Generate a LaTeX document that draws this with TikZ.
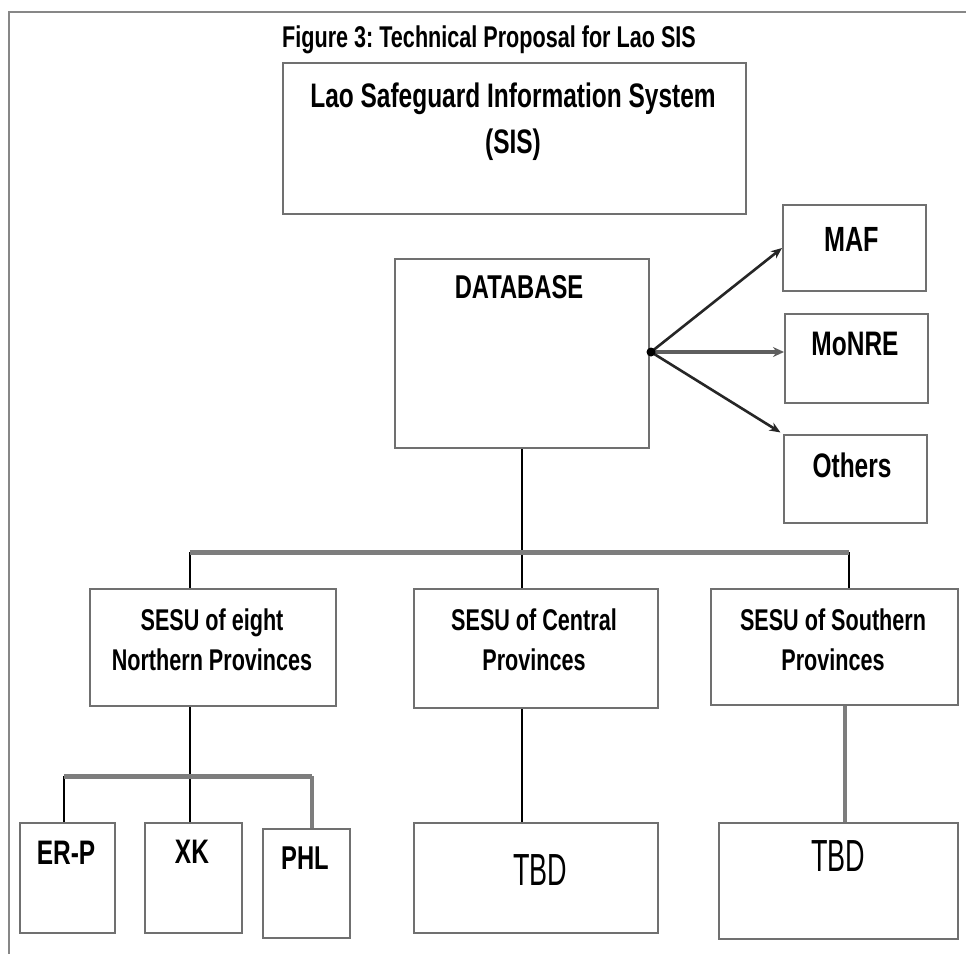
\documentclass[tikz,border=0pt]{standalone}
\usepackage{fontspec}
\setmainfont{Liberation Sans}[FakeStretch=0.72]
\newfontfamily\tbdfont{Liberation Sans}[FakeStretch=0.6]
\usetikzlibrary{arrows.meta,calc}
\definecolor{boxgray}{RGB}{112,112,112}
\definecolor{busgray}{RGB}{125,125,125}
\definecolor{framegray}{RGB}{135,135,135}
\definecolor{arrgray}{RGB}{95,95,95}
\tikzset{
  bx/.style={draw=boxgray, line width=2pt, inner sep=0pt, anchor=north west, rectangle},
  lbl/.style n args={2}{inner sep=0pt, align=center, text=black, font=\bfseries\fontsize{#1}{#2}\selectfont},
  tbd/.style={inner sep=0pt, text=black, font=\tbdfont\fontsize{45}{45}\selectfont},
  conn/.style={draw=black, line width=1.6pt},
  bus/.style={draw=busgray, line width=5pt},
  gconn/.style={draw=busgray, line width=3.5pt},
  frameline/.style={draw=framegray, line width=2pt},
  arr/.style={draw=black!85, line width=2.6pt, -{Stealth[length=11pt,width=9pt]}},
  garr/.style={draw=arrgray, line width=4.5pt, -{Stealth[length=11pt,width=10pt,fill=black]}},
}
\frenchspacing
\begin{document}
\begin{tikzpicture}[x=1pt,y=-1pt]
\useasboundingbox (0,0) rectangle (966,954);
\fill[white] (0,0) rectangle (966,954);
% frame
\draw[frameline] (966,12) -- (9,12) -- (9,954);
% title
\node[lbl={30}{36}] (title) at (489,40) {Figure 3: Technical Proposal for Lao SIS};
% boxes
\node[bx, minimum width=463pt, minimum height=151pt] (sis) at (282,62) {};
\node[bx, minimum width=254pt, minimum height=189pt] (db) at (394,258) {};
\node[bx, minimum width=143pt, minimum height=86pt] (maf) at (782,204) {};
\node[bx, minimum width=143pt, minimum height=89pt] (mon) at (784,313) {};
\node[bx, minimum width=143pt, minimum height=88pt] (oth) at (783,434) {};
\node[bx, minimum width=246pt, minimum height=117pt] (sn) at (89,588) {};
\node[bx, minimum width=244pt, minimum height=119pt] (sc) at (413,588) {};
\node[bx, minimum width=247pt, minimum height=116pt] (ss) at (710,588) {};
\node[bx, minimum width=95pt, minimum height=110pt] (erp) at (19,822) {};
\node[bx, minimum width=97pt, minimum height=110pt] (xk) at (144,822) {};
\node[bx, minimum width=87pt, minimum height=109pt] (phl) at (262,828) {};
\node[bx, minimum width=244pt, minimum height=110pt] (tc) at (413,822) {};
\node[bx, minimum width=239pt, minimum height=116pt] (ts) at (718,822) {};
% labels
\node[lbl={34}{46}] (sisT) at (513,122) {Lao Safeguard Information System\\(SIS)};
\node[lbl={33}{33}] (dbT) at (519,287) {DATABASE};
\node[lbl={35}{35}] (mafT) at (852,239) {MAF};
\node[lbl={34}{34}] (monT) at (855,344) {MoNRE};
\node[lbl={34}{34}] (othT) at (852,465) {Others};
\node[lbl={30}{40}] (snT) at (212,640) {SESU of eight\\Northern Provinces};
\node[lbl={30}{40}] (scT) at (534,640) {SESU of Central\\Provinces};
\node[lbl={30}{40}] (ssT) at (833,640) {SESU of Southern\\Provinces};
\node[lbl={34}{34}] (erpT) at (66,853) {ER-P};
\node[lbl={34}{34}] (xkT) at (192,852) {XK};
\node[lbl={33}{33}] (phlT) at (305,858) {PHL};
\node[tbd] (tcT) at (540,870) {TBD};
\node[tbd] (tsT) at (838,856) {TBD};
% arrows from database
\coordinate (hub) at (651,352);
\draw[garr] (hub) -- (mon.west |- hub);
\draw[arr] (hub) -- (maf.west);
\draw[arr, shorten >=3pt] (hub) -- (oth.north west);
\fill[black] (hub) circle (4.5);
% database to SESU level
\coordinate (b1) at (190,552);
\coordinate (b2) at (849,552);
\draw[conn] (db.south) -- (db.south |- sc.north);
\draw[conn] (b1) -- (b1 |- sn.north);
\draw[conn] (b2) -- (b2 |- ss.north);
\draw[bus] (b1) -- (b2);
% northern branch
\coordinate (n1) at (64,776);
\coordinate (n2) at (312,776);
\draw[conn] (b1 |- sn.south) -- (b1 |- xk.north);
\draw[conn] (n1) -- (n1 |- erp.north);
\draw[gconn] (n2) -- (n2 |- phl.north);
\draw[bus] (n1) -- (n2);
% central branch
\draw[conn] (db.south |- sc.south) -- (db.south |- tc.north);
% southern branch
\coordinate (sx) at (845,0);
\draw[gconn] (sx |- ss.south) -- (sx |- ts.north);
\end{tikzpicture}
\end{document}
